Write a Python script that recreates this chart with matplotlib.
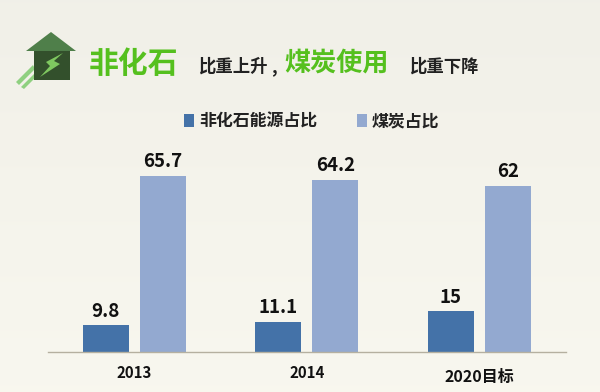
import matplotlib
matplotlib.use("Agg")
import matplotlib.pyplot as plt
from matplotlib.patches import Polygon, Rectangle
from matplotlib.transforms import ScaledTranslation
import numpy as np

plt.rcParams['font.family'] = ['Noto Sans CJK SC', 'DejaVu Sans']

# data
years = ['2013', '2014', '2020目标']
fossil_free = [9.8, 11.1, 15]
coal = [65.7, 64.2, 62]
value_labels_a = ['9.8', '11.1', '15']
value_labels_b = ['65.7', '64.2', '62']
series_names = ['非化石能源占比', '煤炭占比']
colors = ['#4472a8', '#93a9d0']

W, H = 600, 392
fig = plt.figure(figsize=(W / 100, H / 100), dpi=100)

# background, slightly lighter toward the bottom
bg = fig.add_axes([0, 0, 1, 1], zorder=0)
grad = np.linspace(0, 1, 256).reshape(-1, 1, 1)
top = np.array([0.945, 0.941, 0.910]).reshape(1, 1, 3)
bottom = np.array([0.973, 0.969, 0.937]).reshape(1, 1, 3)
bg.imshow(top + (bottom - top) * grad, aspect='auto', extent=[0, W, H, 0])
bg.set_xlim(0, W)
bg.set_ylim(H, 0)
bg.axis('off')

# icon
bg.add_patch(Polygon([[16, 82], [33, 65], [35, 69], [19, 85]], color='#8fd080', lw=0))
bg.add_patch(Polygon([[21, 87], [34, 74], [34, 79], [24, 89]], color='#8fd080', lw=0))
bg.add_patch(Polygon([[26, 51], [51, 32], [76, 51]], color='#4f7f4a', lw=0))
bg.add_patch(Polygon([[34, 51], [70, 51], [70, 80], [34, 80]], color='#33502c', lw=0))
bg.add_patch(Polygon([[63, 53], [46, 62], [50, 66], [40, 77], [60, 64], [54, 61]],
                     color='#7fc860', lw=0))

# title
bg.text(89, 63.5, '非化石', fontsize=21.5, fontweight='bold', color='#55c01e', va='center')
bg.text(198, 67, '比重上升', fontsize=12.5, fontweight='bold', color='#222222', va='center')
bg.text(271, 67, ',', fontsize=12.5, fontweight='bold', color='#222222', va='center')
bg.text(284, 63.5, '煤炭使用', fontsize=18.8, fontweight='bold', color='#55c01e', va='center')
bg.text(409, 67, '比重下降', fontsize=12.5, fontweight='bold', color='#222222', va='center')

# legend, placed by hand so both entries share a baseline
bg.add_patch(Rectangle((184, 114), 10, 13, color=colors[0], lw=0))
bg.text(199, 126.5, series_names[0], fontsize=12.2, fontweight='bold', color='#222222', va='baseline')
bg.add_patch(Rectangle((357, 114), 10, 13, color=colors[1], lw=0))
bg.text(372, 126.5, series_names[1], fontsize=12.2, fontweight='bold', color='#222222', va='baseline')

# chart area
left, right = 48, 565.5
base, tick_top = 351.5, 176
ax = fig.add_axes([left / W, 1 - base / H, (right - left) / W, (base - tick_top + 40) / H], zorder=1)
ax.patch.set_alpha(0)

x = np.arange(len(years))
width = 0.267
offset = 0.165
bars1 = ax.bar(x - offset, fossil_free, width, color=colors[0])
bars2 = ax.bar(x + offset, coal, width, color=colors[1])

ax.set_xlim(-0.5, 2.5)
ax.set_ylim(0, (base - tick_top + 40) / (175.5 / 65.7))

for r, t in zip(bars1, value_labels_a):
    ax.text(r.get_x() + r.get_width() / 2, r.get_height() + 1.8, t, ha='center', va='bottom',
            fontsize=13.5, fontweight='bold', color='#111111')
for r, t in zip(bars2, value_labels_b):
    ax.text(r.get_x() + r.get_width() / 2, r.get_height() + 1.8, t, ha='center', va='bottom',
            fontsize=13.5, fontweight='bold', color='#111111')

ax.set_xticks(x)
ax.set_xticklabels(years, fontsize=10.8, fontweight='bold', color='#111111')
ax.tick_params(axis='x', length=0, pad=10)
ax.set_yticks([])
# the last label sits a little lower and larger in the original
last = ax.get_xticklabels()[2]
last.set_fontsize(11.5)
last.set_transform(last.get_transform() + ScaledTranslation(0, -4 / 100, fig.dpi_scale_trans))
for s in ['top', 'left', 'right']:
    ax.spines[s].set_visible(False)
ax.spines['bottom'].set_color('#b5b0a0')
ax.spines['bottom'].set_linewidth(1)

fig.savefig('out.png', dpi=100)
